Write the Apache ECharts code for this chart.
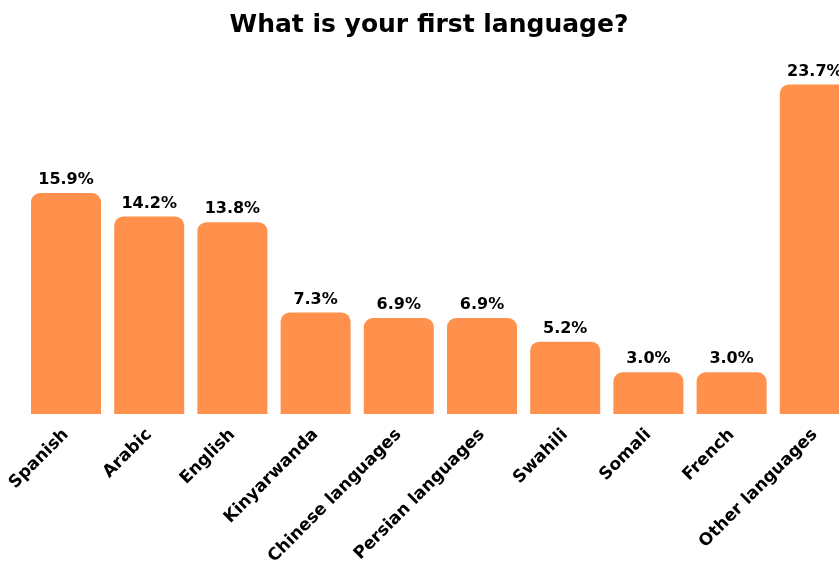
<!DOCTYPE html>
<html>
<head>
<meta charset="utf-8">
<script src="https://cdn.jsdelivr.net/npm/echarts@6/dist/echarts.min.js"></script>
<style>
  html, body { margin: 0; padding: 0; background: #ffffff; }
  #chart { width: 839px; height: 567px; }
</style>
</head>
<body>
<div id="chart"></div>
<script>
// Survey answers: share of respondents by first language (%)
const languages = [
  'Spanish', 'Arabic', 'English', 'Kinyarwanda', 'Chinese languages',
  'Persian languages', 'Swahili', 'Somali', 'French', 'Other languages'
];
const shares = [15.9, 14.2, 13.8, 7.3, 6.9, 6.9, 5.2, 3.0, 3.0, 23.7];

const FONT = '"DejaVu Sans", Inter, sans-serif';

const chart = echarts.init(document.getElementById('chart'));
chart.setOption({
  backgroundColor: '#ffffff',
  animation: false,
  title: {
    text: 'What is your first language?',
    left: 424,
    textAlign: 'center',
    top: 8,
    textStyle: { fontFamily: FONT, fontSize: 25, fontWeight: 'bold', color: '#000000' }
  },
  // the plot runs past the right edge, so the last bar is cut off
  grid: {
    left: 24.4, width: 832, top: 80.4, bottom: 153,
    containLabel: false, outerBoundsMode: 'none'
  },
  xAxis: {
    type: 'category',
    data: languages,
    axisLine: { show: false },
    axisTick: { show: false },
    axisLabel: {
      interval: 0,
      rotate: 45,
      margin: 18,
      padding: [0, 0, 0, 0],
      fontFamily: FONT,
      fontSize: 17,
      fontWeight: 'bold',
      color: '#000000'
    }
  },
  yAxis: {
    type: 'value',
    min: 0,
    max: 24,
    show: false,
    splitLine: { show: false }
  },
  series: [{
    type: 'bar',
    data: shares,
    barWidth: 70,
    itemStyle: { color: '#FF914D', borderRadius: [9, 9, 0, 0] },
    label: {
      show: true,
      position: 'top',
      distance: 5,
      formatter: p => p.value.toFixed(1) + '%',
      fontFamily: FONT,
      fontSize: 16,
      fontWeight: 'bold',
      color: '#000000'
    }
  }]
});
</script>
</body>
</html>
